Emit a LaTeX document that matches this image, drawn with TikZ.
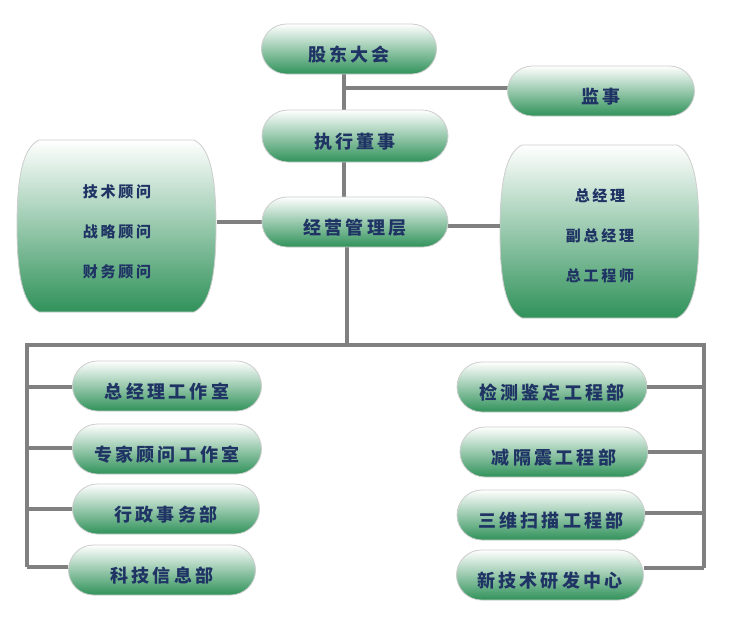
\documentclass[tikz,border=0pt]{standalone}
\usepackage{fontspec}
\newfontfamily\cjk{Noto Sans CJK SC}[LetterSpace=18]
\usetikzlibrary{shapes.misc,calc}
\definecolor{navy}{RGB}{31,52,100}
\definecolor{grn}{RGB}{48,146,90}
\definecolor{edge}{RGB}{205,205,205}
\definecolor{linec}{RGB}{128,128,128}
\tikzset{
  pill/.style={rounded rectangle, draw=edge, line width=0.8pt, top color=white, middle color=grn!22!white, bottom color=grn,
    minimum height=50pt, inner sep=0pt, text height=24pt, text depth=0pt, text=navy,
    font=\cjk\bfseries\fontsize{18}{20}\selectfont},
  boxtext/.style={draw=none, inner sep=0pt, text=navy, align=center,
    font=\cjk\bfseries\fontsize{15}{40}\selectfont},
  conn/.style={draw=linec, line width=3.6pt},
  barrel/.style={draw=edge, line width=0.8pt, top color=white, middle color=grn!22!white, bottom color=grn}
}
\newcommand\barrelshape[4]{% x1 y1 x2 y2
  \path[barrel] ({#1+22},#2) -- ({#3-22},#2)
    .. controls ({#3-5},{#2+8}) and (#3,{#2+40}) .. (#3,{(#2+#4)/2})
    .. controls (#3,{#4-40}) and ({#3-5},{#4-8}) .. ({#3-22},#4)
    -- ({#1+22},#4)
    .. controls ({#1+5},{#4-8}) and (#1,{#4-40}) .. (#1,{(#2+#4)/2})
    .. controls (#1,{#2+40}) and ({#1+5},{#2+8}) .. ({#1+22},#2) -- cycle;}
\begin{document}
\begin{tikzpicture}[x=1pt,y=-1pt]
\useasboundingbox (0,0) rectangle (734,622);
\coordinate (spine) at (344,0);
\coordinate (BL) at (27,345);
\coordinate (BR) at (704,345);
% barrel boxes
\barrelshape{17}{140}{216}{312}
\barrelshape{500}{145}{699}{318}
\node[boxtext, minimum width=199pt, minimum height=172pt] (adv) at (117,232) {技术顾问\\战略顾问\\财务顾问};
\node[boxtext, minimum width=199pt, minimum height=173pt] (mgr) at (600,236) {总经理\\副总经理\\总工程师};
% connectors
\draw[conn] (spine |- 0,74) -- (spine |- 0,110);
\draw[conn] (spine |- 0,88) -- (508,88);
\draw[conn] (spine |- 0,162) -- (spine |- 0,197);
\draw[conn] (adv.east |- 0,222) -- (262,222);
\draw[conn] (448,226) -- (mgr.west |- 0,226);
\draw[conn] (347,247) -- (347,345);
\draw[conn] (27,567) -- (BL) -- (BR) -- (704,568);
% main pills
\node[pill, minimum width=175pt] (gd) at (349,49) {股东大会};
\node[pill, minimum width=187pt] (js) at (601,91) {监事};
\node[pill, minimum width=186pt, minimum height=52pt] (zx) at (355,136) {执行董事};
\node[pill, minimum width=186pt] (jy) at (355,222) {经营管理层};
% left departments
\node[pill, minimum width=189pt] (k1) at (167,386) {总经理工作室};
\node[pill, minimum width=189pt] (k2) at (167,449) {专家顾问工作室};
\node[pill, minimum width=187pt] (k3) at (166,509) {行政事务部};
\node[pill, minimum width=187pt] (k4) at (162,570) {科技信息部};
% right departments
\node[pill, minimum width=190pt] (r1) at (552,387) {检测鉴定工程部};
\node[pill, minimum width=188pt] (r2) at (554,452) {减隔震工程部};
\node[pill, minimum width=188pt] (r3) at (551,515) {三维扫描工程部};
\node[pill, minimum width=187pt] (r4) at (550,575) {新技术研发中心};
% branches
\draw[conn] ([yshift=-1pt]k1.west) -- ([yshift=-1pt]k1.west -| BL);
\draw[conn] ([yshift=1pt]k2.west) -- ([yshift=1pt]k2.west -| BL);
\draw[conn] (k3.west) -- (k3.west -| BL);
\draw[conn] ([yshift=3pt]k4.west) -- ([yshift=3pt]k4.west -| BL);
\draw[conn] (r1.east) -- (r1.east -| BR);
\draw[conn] (r2.east) -- (r2.east -| BR);
\draw[conn] ([yshift=2pt]r3.east) -- ([yshift=2pt]r3.east -| BR);
\draw[conn] ([yshift=7pt]r4.east) -- ([yshift=7pt]r4.east -| BR);
\end{tikzpicture}
\end{document}
